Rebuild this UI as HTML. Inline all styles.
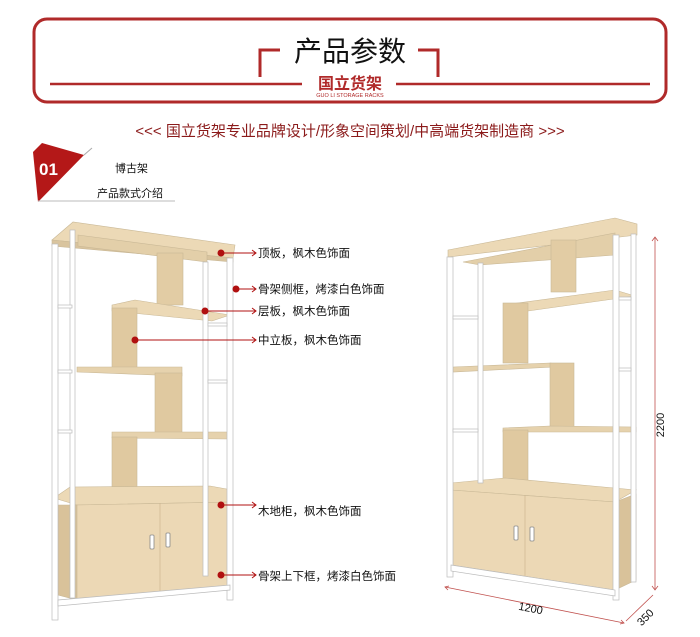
<!DOCTYPE html>
<html><head><meta charset="utf-8"><style>
html,body{margin:0;padding:0;background:#fff;}
svg{display:block;font-family:"Liberation Sans","Noto Sans CJK SC",sans-serif;}
</style></head><body>
<svg width="700" height="637" viewBox="0 0 700 637" xmlns="http://www.w3.org/2000/svg">
<rect x="34" y="19" width="632" height="83" rx="13" fill="none" stroke="#b02a2a" stroke-width="3"/>
<text x="350" y="61" font-size="28" text-anchor="middle" fill="#111">产品参数</text>
<path d="M260 77 V50 H280" fill="none" stroke="#b02a2a" stroke-width="3"/>
<path d="M418 50 H438 V77" fill="none" stroke="#b02a2a" stroke-width="3"/>
<line x1="50" y1="84" x2="302" y2="84" stroke="#b02a2a" stroke-width="2.5"/>
<line x1="396" y1="84" x2="650" y2="84" stroke="#b02a2a" stroke-width="2.5"/>
<text x="350" y="89" font-size="16" font-weight="bold" text-anchor="middle" fill="#b02a2a">国立货架</text>
<text x="350" y="97" font-size="5.5" text-anchor="middle" fill="#b02a2a">GUO LI STORAGE RACKS</text>
<text x="350" y="136" font-size="15" text-anchor="middle" fill="#8b1a1a">&lt;&lt;&lt; 国立货架专业品牌设计/形象空间策划/中高端货架制造商 &gt;&gt;&gt;</text>
<polygon points="33,152 42,143 84,155 38,202" fill="#b41818"/>
<line x1="84" y1="155" x2="92" y2="148" stroke="#aaa" stroke-width="1"/>
<line x1="38" y1="201" x2="175" y2="201" stroke="#bbb" stroke-width="1"/>
<text x="39" y="175" font-size="17" font-weight="bold" fill="#fff">01</text>
<text x="115" y="172" font-size="11" fill="#111">博古架</text>
<text x="97" y="197" font-size="11" fill="#111">产品款式介绍</text>

<!-- left shelf -->
<g stroke="#c9b896" stroke-width="0.6">
<polygon points="52,240 73,222 235,245 233,258" fill="#ecd9b6"/>
<polygon points="52,240 233,258 233,262 52,246" fill="#d9c49e"/>
<polygon points="78,235 207,252 207,262 78,246" fill="#e3cfa9"/>
<rect x="157" y="253" width="26" height="52" fill="#e2cca4"/>
<polygon points="112,305 135,300 230,315 212,321 112,311" fill="#ecd9b6"/>
<rect x="112" y="308" width="25" height="60" fill="#e0c9a0"/>
<polygon points="77,367 182,367 182,376 77,372" fill="#e6d2ad"/>
<rect x="155" y="373" width="27" height="61" fill="#e0c9a0"/>
<polygon points="112,432 230,432 228,439 112,438" fill="#e6d2ad"/>
<rect x="112" y="437" width="25" height="60" fill="#e0c9a0"/>
<polygon points="54,498 70,487 210,486 232,490 230,502 77,505" fill="#ecd9b6"/>
<polygon points="58,505 77,505 77,600 58,595" fill="#d9c29a"/>
<polygon points="77,505 230,502 230,585 77,600" fill="#ecd8b5"/>
<line x1="160" y1="503" x2="160" y2="592" stroke="#c9b38b"/>
</g>
<rect x="150" y="535" width="4" height="14" rx="1" fill="#fff" stroke="#888" stroke-width="0.8"/>
<rect x="166" y="533" width="4" height="14" rx="1" fill="#fff" stroke="#888" stroke-width="0.8"/>
<g fill="#fff" stroke="#bbb" stroke-width="0.7">
<rect x="52" y="244" width="6" height="376"/>
<rect x="70" y="230" width="5" height="368"/>
<rect x="227" y="258" width="6" height="342"/>
<rect x="203" y="262" width="5" height="314"/>
<rect x="58" y="305" width="14" height="3"/>
<rect x="58" y="370" width="14" height="3"/>
<rect x="58" y="430" width="14" height="3"/>
<rect x="208" y="380" width="19" height="3"/>
<rect x="208" y="323" width="19" height="3"/>
<polygon points="58,600 230,585 230,590 58,606"/>
</g>

<!-- labels -->
<g fill="#b01010" stroke="#b01010" stroke-width="1">
<circle cx="221" cy="253" r="3"/><line x1="221" y1="253" x2="256" y2="253"/>
<circle cx="236" cy="289" r="3"/><line x1="236" y1="289" x2="256" y2="289"/>
<circle cx="205" cy="311" r="3"/><line x1="205" y1="311" x2="256" y2="311"/>
<circle cx="135" cy="340" r="3"/><line x1="135" y1="340" x2="256" y2="340"/>
<circle cx="221" cy="505" r="3"/><line x1="221" y1="505" x2="256" y2="505"/>
<circle cx="221" cy="575" r="3"/><line x1="221" y1="575" x2="256" y2="575"/>
</g>
<g fill="none" stroke="#b01010" stroke-width="1">
<path d="M252 250 L256 253 L252 256"/><path d="M252 286 L256 289 L252 292"/><path d="M252 308 L256 311 L252 314"/>
<path d="M252 337 L256 340 L252 343"/><path d="M252 502 L256 505 L252 508"/><path d="M252 572 L256 575 L252 578"/>
</g>
<g font-size="11.5" fill="#111">
<text x="258" y="257">顶板，枫木色饰面</text>
<text x="258" y="293">骨架侧框，烤漆白色饰面</text>
<text x="258" y="315">层板，枫木色饰面</text>
<text x="258" y="344">中立板，枫木色饰面</text>
<text x="258" y="515">木地柜，枫木色饰面</text>
<text x="258" y="580">骨架上下框，烤漆白色饰面</text>
</g>

<!-- right shelf -->
<g stroke="#c9b896" stroke-width="0.6">
<polygon points="448,250 615,218 637,224 637,235 448,257" fill="#ecd9b6"/>
<polygon points="463,262 615,233 615,255 480,265" fill="#e3cfa9"/>
<rect x="551" y="240" width="25" height="52" fill="#e2cca4"/>
<polygon points="503,305 615,290 635,296 528,311" fill="#ecd9b6"/>
<rect x="503" y="303" width="25" height="60" fill="#e0c9a0"/>
<polygon points="453,367 550,363 574,366 453,372" fill="#e6d2ad"/>
<rect x="550" y="363" width="24" height="64" fill="#e0c9a0"/>
<polygon points="503,428 550,426 636,427 636,432 503,432" fill="#e6d2ad"/>
<rect x="503" y="430" width="25" height="60" fill="#e0c9a0"/>
<polygon points="451,483 505,478 636,490 615,502 451,490" fill="#ecd9b6"/>
<polygon points="451,490 615,502 615,590 451,565" fill="#ecd8b5"/>
<polygon points="615,502 636,494 636,580 615,590" fill="#d9c29a"/>
<line x1="525" y1="495" x2="525" y2="577" stroke="#c9b38b"/>
</g>
<rect x="514" y="526" width="4" height="14" rx="1" fill="#fff" stroke="#888" stroke-width="0.8"/>
<rect x="530" y="527" width="4" height="14" rx="1" fill="#fff" stroke="#888" stroke-width="0.8"/>
<g fill="#fff" stroke="#bbb" stroke-width="0.7">
<rect x="447" y="257" width="6" height="320"/>
<rect x="478" y="263" width="5" height="220"/>
<rect x="613" y="235" width="6" height="365"/>
<rect x="631" y="234" width="5" height="348"/>
<rect x="453" y="316" width="25" height="3"/>
<rect x="453" y="429" width="25" height="3"/>
<rect x="619" y="297" width="12" height="3"/>
<rect x="619" y="368" width="12" height="3"/>
<polygon points="451,565 615,590 615,596 451,571"/>
</g>
<g stroke="#c0504d" stroke-width="0.8" fill="none">
<line x1="655" y1="237" x2="655" y2="590"/>
<path d="M652 241 L655 237 L658 241"/><path d="M652 586 L655 590 L658 586"/>
<line x1="445" y1="587" x2="624" y2="623"/>
<path d="M449 586 L445 587 L448 590"/><path d="M620 624 L624 623 L621 620"/>
<line x1="626" y1="621" x2="653" y2="595"/>
</g>
<text x="664" y="425" font-size="11" fill="#111" transform="rotate(-90 664 425)" text-anchor="middle">2200</text>
<text x="530" y="612" font-size="11" fill="#111" transform="rotate(11 530 612)" text-anchor="middle">1200</text>
<text x="648" y="620" font-size="11" fill="#111" transform="rotate(-45 648 620)" text-anchor="middle">350</text>
</svg>
</body></html>
